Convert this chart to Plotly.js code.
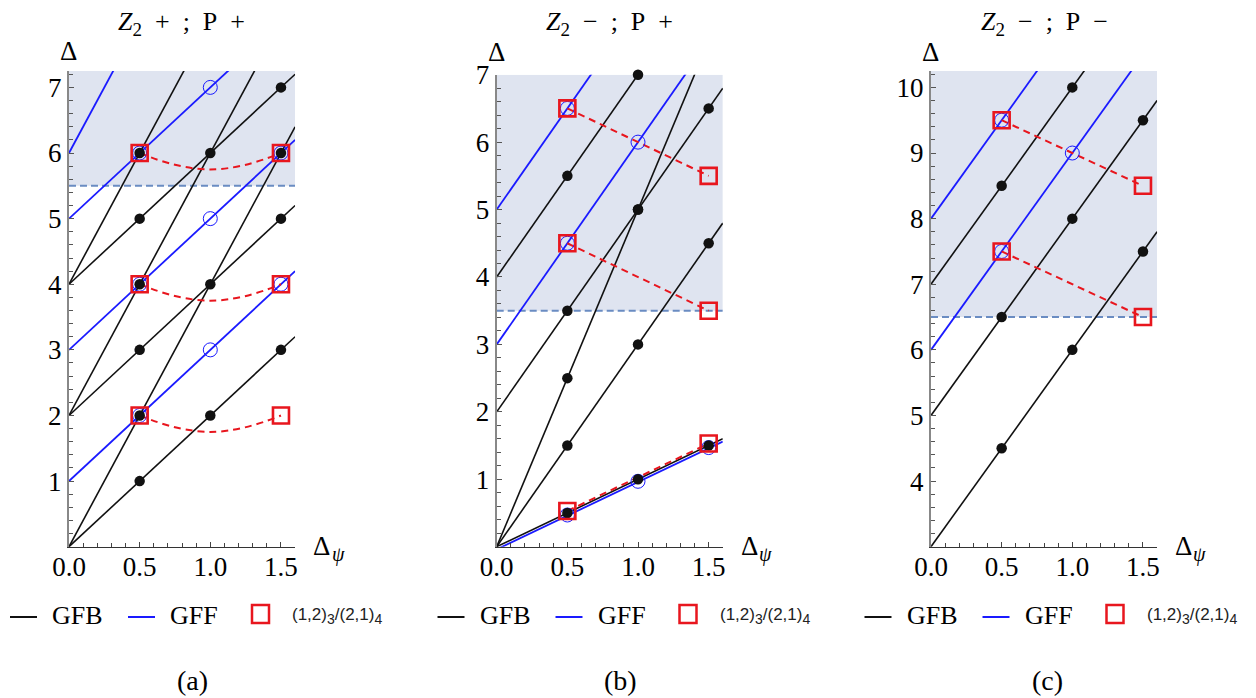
<!DOCTYPE html>
<html>
<head>
<meta charset="utf-8">
<script src="https://cdn.plot.ly/plotly-3.0.1.min.js"></script>
<style>html,body{margin:0;padding:0;background:#fff;}#chart{width:1256px;height:698px;}</style>
</head>
<body>
<div id="chart"></div>
<script>
// ---------------- DATA ----------------
// Panel (a): Z2 + ; P +
const aGfbSegX = [[0,1.6],[0,1.6],[0,1.6],[0,1.6],[0,1.6],[0,1.6]];
const aGfbSegY = [[0,3.2],[0,6.4],[2,5.2],[2,8.4],[4,7.2],[4,10.4]];
const aGfbDotX = [0.5,1,1.5,0.5,0.5,1,1.5,0.5,0.5,1,1.5,1.5,0.5];
const aGfbDotY = [1,2,3,2,3,4,5,4,5,6,6,7,6];
const aGffSegX = [[0,1.6],[0,1.6],[0,1.6],[0,1.6]];
const aGffSegY = [[1,4.2],[3,6.2],[5,8.2],[6,12.4]];
const aGffDotX = [0.5,1,1.5,0.5,1,1.5,0.5,1];
const aGffDotY = [2,3,4,4,5,6,6,7];
const aSqX = [0.5,1.5,0.5,1.5,0.5,1.5];
const aSqY = [2,2,4,4,6,6];
const aCurveX = [[0.5,1,1.5],[0.5,1,1.5],[0.5,1,1.5]];
const aCurveY = [[2,1.75,2],[4,3.75,4],[6,5.75,6]];

// Panel (b): Z2 - ; P +
const bGfbSegX = [[0,1.6],[0,1.6],[0,1.6],[0,1.6],[0,1.6]];
const bGfbSegY = [[0,1.6],[0,4.8],[0,8],[2,6.8],[4,8.8]];
const bGfbDotX = [0.5,1,1.5,0.5,1,1.5,0.5,1,0.5,1,1.5,0.5,1];
const bGfbDotY = [0.5,1,1.5,1.5,3,4.5,2.5,5,3.5,5,6.5,5.5,7];
const bGffSegX = [[0,1.6],[0,1.6],[0,1.6]];
const bGffSegY = [[-0.04,1.56],[3,7.8],[5,9.8]];
const bGffDotX = [0.5,1,1.5,0.5,1,0.5];
const bGffDotY = [0.47,0.97,1.47,4.5,6,6.5];
const bSqX = [0.5,1.5,0.5,1.5,0.5,1.5];
const bSqY = [6.5,5.5,4.5,3.5,0.53,1.53];
const bCurveX = [[0.5,1.5],[0.5,1.5],[0.5,1.5]];
const bCurveY = [[6.5,5.5],[4.5,3.5],[0.53,1.53]];

// Panel (c): Z2 - ; P -
const cGfbSegX = [[0,1.6],[0,1.6],[0,1.6]];
const cGfbSegY = [[3,7.8],[5,9.8],[7,11.8]];
const cGfbDotX = [0.5,1,1.5,0.5,1,1.5,0.5,1];
const cGfbDotY = [4.5,6,7.5,6.5,8,9.5,8.5,10];
const cGffSegX = [[0,1.6],[0,1.6]];
const cGffSegY = [[6,10.8],[8,12.8]];
const cGffDotX = [0.5,1,0.5];
const cGffDotY = [7.5,9,9.5];
const cSqX = [0.5,1.5,0.5,1.5];
const cSqY = [9.5,8.5,7.5,6.5];
const cCurveX = [[0.5,1.5],[0.5,1.5]];
const cCurveY = [[9.5,8.5],[7.5,6.5]];

// axes / labels
const xRange = [0,1.6];
const yRanges = [[0,7.25],[0,7],[3,10.25]];
const thresholds = [5.5,3.5,6.5];
const xTickVals = [0,0.5,1,1.5];
const xTickText = ['0.0','0.5','1.0','1.5'];
const yTickVals = [[1,2,3,4,5,6,7],[1,2,3,4,5,6,7],[4,5,6,7,8,9,10]];
const EN = '\u2002';
const SUB2 = '<span style="font-size:19px;baseline-shift:-6px">2</span>';
const panelTitles = [
  '<i>Z</i>' + SUB2 + EN + '+' + EN + ';' + EN + 'P' + EN + '+',
  '<i>Z</i>' + SUB2 + EN + '\u2212' + EN + ';' + EN + 'P' + EN + '+',
  '<i>Z</i>' + SUB2 + EN + '\u2212' + EN + ';' + EN + 'P' + EN + '\u2212'
];
const yAxisLabel = '\u0394';
const xAxisLabel = ['\u0394', '<i>\u03c8</i>'];
const captions = ['(a)','(b)','(c)'];
const legendNames = ['GFB','GFF',
  '(1,2)<span style="font-size:14px;baseline-shift:-4px">3</span>/(2,1)<span style="font-size:14px;baseline-shift:-4px">4</span>'];

// ---------------- BUILD ----------------
const W = 1256, H = 698;
const px = v => v / W;
const py = v => 1 - v / H;
const SERIF = 'Liberation Serif';
const SANS = 'Liberation Sans';
const BLACK = '#111111', BLUE = '#1a1aff', RED = '#e8161e';

function joinSegs(sx, sy) {
  const x = [], y = [];
  sx.forEach((s, i) => { x.push(...s, null); y.push(...sy[i], null); });
  return {x, y};
}

const panels = [
  {gfbS:[aGfbSegX,aGfbSegY], gfbD:[aGfbDotX,aGfbDotY], gffS:[aGffSegX,aGffSegY], gffD:[aGffDotX,aGffDotY], sq:[aSqX,aSqY], cv:[aCurveX,aCurveY], spline:true},
  {gfbS:[bGfbSegX,bGfbSegY], gfbD:[bGfbDotX,bGfbDotY], gffS:[bGffSegX,bGffSegY], gffD:[bGffDotX,bGffDotY], sq:[bSqX,bSqY], cv:[bCurveX,bCurveY], spline:false},
  {gfbS:[cGfbSegX,cGfbSegY], gfbD:[cGfbDotX,cGfbDotY], gffS:[cGffSegX,cGffSegY], gffD:[cGffDotX,cGffDotY], sq:[cSqX,cSqY], cv:[cCurveX,cCurveY], spline:false}
];

// pixel layout of the three plot boxes
const xDomPx = [[69,295.1],[496.7,722.8],[931,1157.1]];
const yDomPx = [[546.7,71],[546.7,74.7],[546.7,71]];

const traces = [];
const layout = {
  width: W, height: H,
  margin: {l:0,r:0,t:0,b:0},
  paper_bgcolor: '#fff', plot_bgcolor: 'rgba(0,0,0,0)',
  showlegend: false,
  font: {family: SERIF, size: 25, color: '#000'},
  shapes: [], annotations: []
};

panels.forEach((p, i) => {
  const sfx = i === 0 ? '' : String(i + 1);
  const xa = 'x' + sfx, ya = 'y' + sfx;
  const gb = joinSegs(p.gfbS[0], p.gfbS[1]);
  traces.push({x: gb.x, y: gb.y, xaxis: xa, yaxis: ya, mode: 'lines', name: 'GFB',
    line: {color: BLACK, width: 1.6}, hoverinfo: 'skip'});
  const gf = joinSegs(p.gffS[0], p.gffS[1]);
  traces.push({x: gf.x, y: gf.y, xaxis: xa, yaxis: ya, mode: 'lines', name: 'GFF',
    line: {color: BLUE, width: 1.8}, hoverinfo: 'skip'});
  p.cv[0].forEach((cx, k) => {
    traces.push({x: cx, y: p.cv[1][k], xaxis: xa, yaxis: ya, mode: 'lines',
      line: {color: RED, width: 2, dash: '7px,5px', shape: p.spline ? 'spline' : 'linear', smoothing: 1.3},
      cliponaxis: false, hoverinfo: 'skip'});
  });
  traces.push({x: p.gffD[0], y: p.gffD[1], xaxis: xa, yaxis: ya, mode: 'markers', cliponaxis: false,
    marker: {symbol: 'circle-open', size: 14, color: BLUE, line: {width: 1, color: 'rgba(40,40,255,0.85)'}}});
  traces.push({x: p.gfbD[0], y: p.gfbD[1], xaxis: xa, yaxis: ya, mode: 'markers', cliponaxis: false,
    marker: {symbol: 'circle', size: 10.5, color: BLACK}});
  traces.push({x: p.sq[0], y: p.sq[1], xaxis: xa, yaxis: ya, mode: 'markers', cliponaxis: false,
    name: '(1,2)3/(2,1)4',
    marker: {symbol: 'square-open', size: 16, color: RED, line: {width: 2.6, color: RED}}});

  layout['xaxis' + sfx] = {
    domain: [px(xDomPx[i][0]), px(xDomPx[i][1])], range: xRange, anchor: ya,
    showgrid: false, zeroline: false, showline: true, linecolor: '#333', linewidth: 1.2,
    ticks: 'inside', ticklen: 5, tickcolor: '#444', tickwidth: 1,
    tickmode: 'array', tickvals: xTickVals, ticktext: xTickText, ticklabelstandoff: -4,
    minor: {ticks: 'inside', ticklen: 4, dtick: 0.1, tick0: 0, tickcolor: '#444', showgrid: false},
    tickfont: {family: SERIF, size: 27, color: '#000'}, fixedrange: true
  };
  layout['yaxis' + sfx] = {
    domain: [py(yDomPx[i][0]), py(yDomPx[i][1])], range: yRanges[i], anchor: xa,
    showgrid: false, zeroline: false, showline: true, linecolor: '#888', linewidth: 2,
    ticks: 'inside', ticklen: 5, tickcolor: '#555', tickwidth: 1,
    tickmode: 'array', tickvals: yTickVals[i],
    minor: {ticks: 'inside', ticklen: 4, dtick: 0.2, tick0: 0, tickcolor: '#555', showgrid: false},
    tickfont: {family: SERIF, size: 27, color: '#000'}, fixedrange: true
  };

  // shaded region and threshold
  layout.shapes.push({type: 'rect', xref: xa, yref: ya, x0: xRange[0], x1: xRange[1],
    y0: thresholds[i], y1: yRanges[i][1], fillcolor: '#dfe4f0', line: {width: 0}, layer: 'below'});
  layout.shapes.push({type: 'line', xref: xa, yref: ya, x0: xRange[0], x1: xRange[1],
    y0: thresholds[i], y1: thresholds[i], line: {color: '#6a8cc2', width: 2, dash: '7px,4px'}, layer: 'below'});
});

// texts
const titleCx = [181.5, 609, 1044];
const deltaC = [[68.5,51],[496,52],[930.5,52]];
const dpsiL = [311, 738.5, 1172.5];
const capCx = [192.5, 620, 1047.5];
const legOff = [0, 427.5, 854.5];
const ann = layout.annotations;
for (let i = 0; i < 3; i++) {
  ann.push({xref:'paper', yref:'paper', x: px(titleCx[i]), y: py(23), xanchor:'center', yanchor:'middle',
    text: panelTitles[i], showarrow:false, font:{family:SERIF, size:26, color:'#000'}});
  ann.push({xref:'paper', yref:'paper', x: px(deltaC[i][0]), y: py(deltaC[i][1]), xanchor:'center', yanchor:'middle',
    text: yAxisLabel, showarrow:false, font:{family:SERIF, size:27, color:'#000'}});
  ann.push({xref:'paper', yref:'paper', x: px(dpsiL[i]), y: py(545.5), xanchor:'left', yanchor:'middle',
    text: xAxisLabel[0], showarrow:false, font:{family:SERIF, size:27, color:'#000'}});
  ann.push({xref:'paper', yref:'paper', x: px(dpsiL[i] + 18.5), y: py(554), xanchor:'left', yanchor:'middle',
    text: xAxisLabel[1], showarrow:false, font:{family:SERIF, size:20, color:'#000'}});
  ann.push({xref:'paper', yref:'paper', x: px(capCx[i]), y: py(680), xanchor:'center', yanchor:'middle',
    text: captions[i], showarrow:false, font:{family:SERIF, size:28, color:'#000'}});
  // legend row
  const o = legOff[i];
  layout.shapes.push({type:'line', xref:'paper', yref:'paper', x0: px(o+10), x1: px(o+37), y0: py(617), y1: py(617),
    line:{color:BLACK, width:2}});
  layout.shapes.push({type:'line', xref:'paper', yref:'paper', x0: px(o+128), x1: px(o+155), y0: py(617), y1: py(617),
    line:{color:BLUE, width:2}});
  layout.shapes.push({type:'rect', xref:'paper', yref:'paper', x0: px(o+252), x1: px(o+269), y0: py(623), y1: py(605),
    line:{color:RED, width:2.5}, fillcolor:'rgba(0,0,0,0)'});
  ann.push({xref:'paper', yref:'paper', x: px(o+50), y: py(615), xanchor:'left', yanchor:'middle',
    text: legendNames[0], showarrow:false, font:{family:SERIF, size:26, color:'#000'}});
  ann.push({xref:'paper', yref:'paper', x: px(o+168), y: py(615), xanchor:'left', yanchor:'middle',
    text: legendNames[1], showarrow:false, font:{family:SERIF, size:26, color:'#000'}});
  ann.push({xref:'paper', yref:'paper', x: px(o+290), y: py(616), xanchor:'left', yanchor:'middle',
    text: legendNames[2], showarrow:false, font:{family:SANS, size:17, color:'#222'}});
}

Plotly.newPlot('chart', traces, layout, {staticPlot: true, displayModeBar: false});
</script>
</body>
</html>
